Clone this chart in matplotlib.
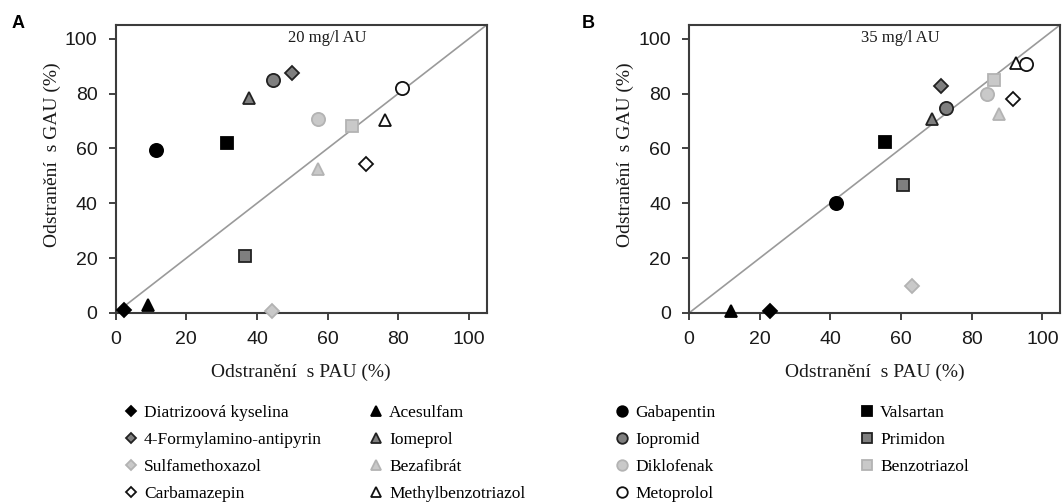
import matplotlib
matplotlib.use("Agg")
import matplotlib.pyplot as plt

# compounds, grouped the way the legend columns are laid out
names = [
    "Diatrizoová kyselina", "4-Formylamino-antipyrin", "Sulfamethoxazol", "Carbamazepin",
    "Acesulfam", "Iomeprol", "Bezafibrát", "Methylbenzotriazol",
    "Gabapentin", "Iopromid", "Diklofenak", "Metoprolol",
    "Valsartan", "Primidon", "Benzotriazol",
]

# removal with PAU (x) and with GAU (y), in %
a_pau = [2.4, 50.0, 44.3, 71.0, 9.1, 37.7, 57.4, 76.3, 11.3, 44.5, 57.2, 81.1, 31.5, 36.5, 67.0]
a_gau = [1.0, 87.6, 0.8, 54.2, 3.0, 78.5, 52.4, 70.5, 59.4, 85.1, 70.7, 82.1, 61.8, 20.6, 68.2]
b_pau = [22.8, 71.2, 63.0, 91.8, 12.0, 68.8, 87.7, 92.5, 41.6, 72.8, 84.3, 95.4, 55.6, 60.7, 86.3]
b_gau = [0.8, 82.7, 9.9, 78.2, 0.6, 70.7, 72.4, 91.3, 40.2, 74.9, 80.0, 90.9, 62.2, 46.5, 84.8]

panel_letters = ["A", "B"]
dose_labels = ["20 mg/l AU", "35 mg/l AU"]
ticks = [0, 20, 40, 60, 80, 100]

# styling
shapes = {"D": 7, "^": 9, "o": 9.5, "s": 8.5}
marker_of = ["D"] * 4 + ["^"] * 4 + ["o"] * 4 + ["s"] * 3
shade_of = [0, 1, 2, 3] * 3 + [0, 1, 2]
face = ["#000000", "#7f7f7f", "#c9c9c9", "#ffffff"]
edge = ["#000000", "#222222", "#b3b3b3", "#111111"]

sans = "Liberation Sans"
serif = "Liberation Serif"

fig = plt.figure(figsize=(10.62, 5.04), dpi=100)
ax_a = fig.add_axes([0.1089, 0.379, 0.3493, 0.5714])
ax_b = fig.add_axes([0.6488, 0.379, 0.3493, 0.5714])

handles = []
for ax, xs, ys, dose in [(ax_a, a_pau, a_gau, dose_labels[0]),
                         (ax_b, b_pau, b_gau, dose_labels[1])]:
    ax.plot([0, 105], [0, 105], color="#9a9a9a", lw=1.2, zorder=1)
    for i, nm in enumerate(names):
        m = marker_of[i]
        h, = ax.plot(xs[i], ys[i], ls="none", marker=m, ms=shapes[m],
                     mfc=face[shade_of[i]], mec=edge[shade_of[i]], mew=1.3,
                     label=nm, zorder=3, clip_on=False)
        if ax is ax_a:
            handles.append(h)
    ax.set_xlim(0, 105)
    ax.set_ylim(0, 105)
    ax.set_xticks(ticks)
    ax.set_yticks(ticks)
    ax.tick_params(direction="out", length=5, width=1.3, colors="#333333",
                   labelcolor="#1a1a1a", labelsize=14, pad=8,
                   top=False, right=False)
    for lab in ax.get_xticklabels() + ax.get_yticklabels():
        lab.set_fontfamily(sans)
    for sp in ax.spines.values():
        sp.set_color("#3c3c3c")
        sp.set_linewidth(1.5)
    ax.set_xlabel("Odstranění  s PAU (%)", fontfamily=serif, fontsize=14,
                  color="#1a1a1a", labelpad=11)
    ax.set_ylabel("Odstranění  s GAU (%)", fontfamily=serif, fontsize=14,
                  color="#1a1a1a", labelpad=3)
    ax.yaxis.label.set_y(0.55)
    ax.text(0.57, 0.955, dose, transform=ax.transAxes, ha="center", va="center",
            fontfamily=serif, fontsize=12, color="#1a1a1a")

for px, letter in zip([18, 588], panel_letters):
    fig.text(px / 1062, 1 - 24 / 504, letter, fontfamily=sans, fontweight="bold",
             fontsize=13, ha="center", va="center")

# legend: four separate columns under the panels
col_x = [124, 369, 615, 860]
col_slices = [slice(0, 4), slice(4, 8), slice(8, 12), slice(12, 15)]
for cx, sl in zip(col_x, col_slices):
    fig.legend(handles=handles[sl], loc="upper left",
               bbox_to_anchor=(cx / 1062, 1 - 405 / 504),
               frameon=False, prop={"family": serif, "size": 12.5},
               handlelength=0.8, handletextpad=0.35, labelspacing=0.62,
               borderpad=0, borderaxespad=0, markerscale=0.8)

fig.savefig("out.png", dpi=100)
